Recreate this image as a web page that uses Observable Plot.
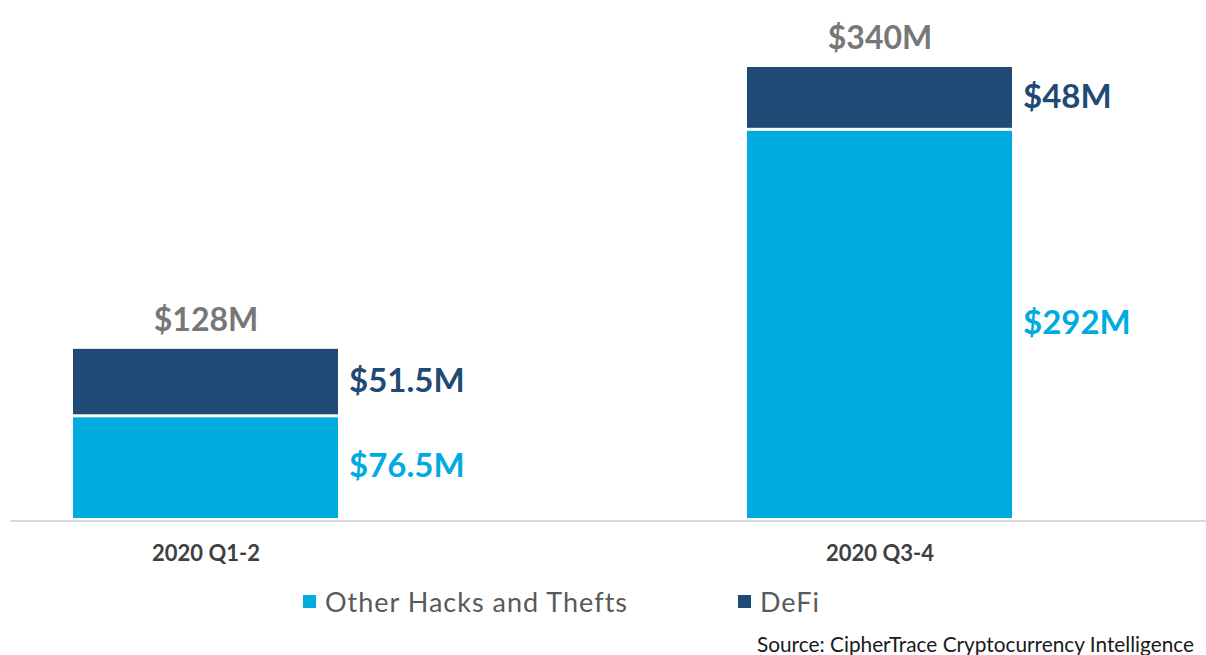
<!DOCTYPE html>
<html>
<head>
<meta charset="utf-8">
<script src="https://cdn.jsdelivr.net/npm/d3@7"></script>
<script src="https://cdn.jsdelivr.net/npm/@observablehq/plot@0.6"></script>
<style>
  html, body { margin: 0; padding: 0; background: #fff; width: 1206px; height: 655px; overflow: hidden; }
  #wrap { position: relative; width: 1206px; height: 655px; font-family: Lato, "Open Sans", sans-serif; overflow: hidden; }
  #chart svg { display: block; }
  .leg { position: absolute; top: 585px; font-size: 27px; letter-spacing: 1px; color: #595959; display: flex; align-items: center; }
  .sw { width: 13px; height: 13px; margin-right: 9px; display: inline-block; }
  #source { position: absolute; left: 757px; top: 634px; font-size: 20.8px; line-height: 20px; color: #1a1a1a; white-space: nowrap; }
</style>
</head>
<body>
<div id="wrap">
  <div id="chart"></div>
  <div id="legend"></div>
  <div id="source">Source: CipherTrace Cryptocurrency Intelligence</div>
</div>
<script>
const categories = ["2020 Q1-2", "2020 Q3-4"];
const otherHacks = [76.5, 292];
const defi = [51.5, 48];
const totals = [128, 340];
const seriesNames = ["Other Hacks and Thefts", "DeFi"];
const seriesColors = ["#00abdf", "#1f4a75"];
const totalColor = "#777777";

const otherRows = categories.map((c, i) => ({cat: c, lo: 0, hi: otherHacks[i], mid: otherHacks[i] / 2, label: `$${otherHacks[i]}M`}));
const defiRows = categories.map((c, i) => ({cat: c, lo: otherHacks[i], hi: otherHacks[i] + defi[i], mid: otherHacks[i] + defi[i] / 2, label: `$${defi[i]}M`}));
const totalRows = categories.map((c, i) => ({cat: c, total: totals[i], label: `$${totals[i]}M`}));

const font = "Lato, 'Open Sans', sans-serif";

const chart = Plot.plot({
  width: 1206,
  height: 570,
  marginLeft: 10,
  marginRight: 0,
  marginTop: 0,
  marginBottom: 51,
  style: {fontFamily: font, background: "#fff"},
  x: {domain: categories, range: [72, 1012], paddingInner: 0.6074, paddingOuter: 0, label: null},
  y: {domain: [0, 340], range: [519, 67], axis: null},
  marks: [
    Plot.ruleY([0], {stroke: "#d9d9d9", strokeWidth: 2, dy: 1.5}),
    Plot.barY(otherRows, {x: "cat", y1: "lo", y2: "hi", fill: seriesColors[0], insetBottom: 1}),
    Plot.barY(defiRows, {x: "cat", y1: "lo", y2: "hi", fill: seriesColors[1], insetBottom: 3}),
    Plot.text(totalRows, {x: "cat", y: "total", text: "label", fill: totalColor, fontSize: 32, fontWeight: "bold", dy: -29, lineAnchor: "middle", textAnchor: "middle"}),
    Plot.text(defiRows, {x: "cat", y: "mid", text: "label", fill: seriesColors[1], fontSize: 33, fontWeight: "bold", dx: 143, dy: -2, textAnchor: "start", lineAnchor: "middle"}),
    Plot.text(otherRows, {x: "cat", y: "mid", text: "label", fill: seriesColors[0], fontSize: 33, fontWeight: "bold", dx: 143, dy: -2, textAnchor: "start", lineAnchor: "middle"}),
    Plot.axisX({tickSize: 0, tickPadding: 26, fontSize: 22, fontWeight: "bold", fill: "#404040", label: null, lineAnchor: "top"})
  ]
});
document.getElementById("chart").appendChild(chart);

const legend = document.getElementById("legend");
const legLeft = [303, 738];
seriesNames.forEach((name, i) => {
  const d = document.createElement("div");
  d.className = "leg";
  d.style.left = legLeft[i] + "px";
  const sw = document.createElement("span");
  sw.className = "sw";
  sw.style.background = seriesColors[i];
  d.appendChild(sw);
  d.appendChild(document.createTextNode(name));
  legend.appendChild(d);
});
</script>
</body>
</html>
